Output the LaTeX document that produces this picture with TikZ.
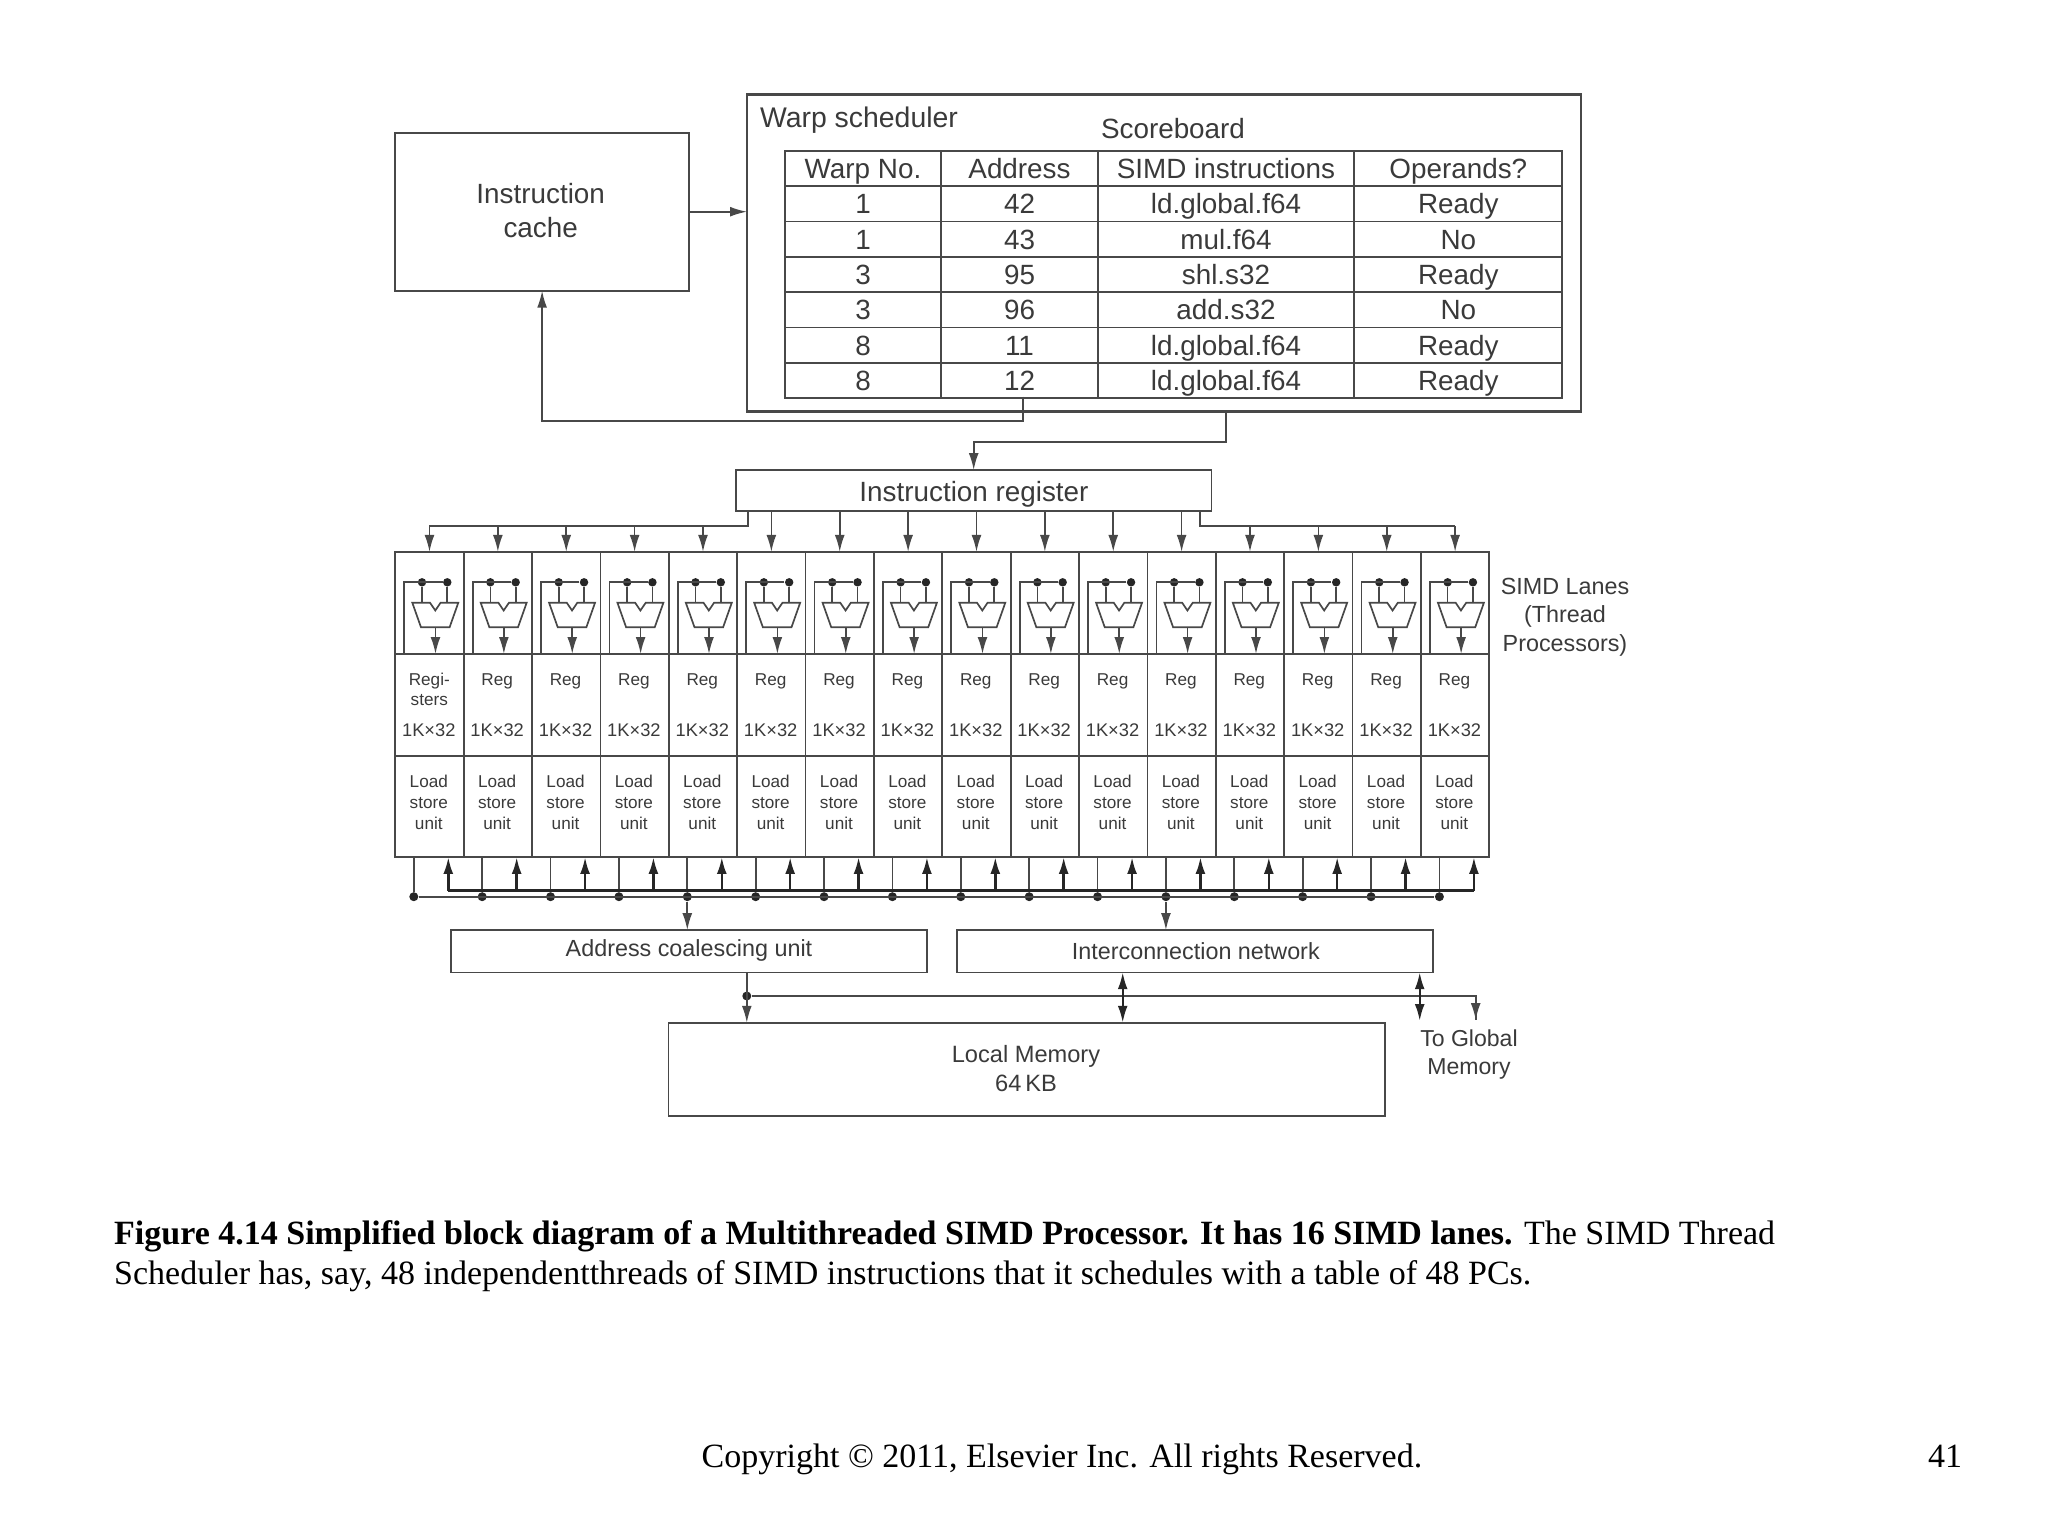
\documentclass[tikz,border=0pt]{standalone}
\usepackage{fontspec}
\setmainfont{Liberation Serif}
\newfontfamily\diafont{Liberation Sans}
\usepackage{xcolor}
\definecolor{wire}{HTML}{484848}
\definecolor{wirebold}{HTML}{262626}
\definecolor{inktext}{HTML}{3A3A3A}
\usetikzlibrary{arrows.meta,positioning,calc}
\tikzset{
  blk/.style 2 args = {draw=wire,line width=0.6pt,inner sep=0pt,outer sep=0pt,
                     minimum width=#1*0.0125cm,minimum height=#2*0.0125cm},
  lbl/.style     = {inner sep=0pt,align=center,text=inktext,
                     font=\diafont\fontsize{8.3}{10.2}\selectfont},
  lblbig/.style  = {lbl,font=\diafont\fontsize{9.9}{12.2}\selectfont},
  lblsmall/.style= {lbl,font=\diafont\fontsize{6.1}{7.5}\selectfont},
  sizelbl/.style = {lbl,font=\diafont\fontsize{6.5}{7.5}\selectfont},
  celltxt/.style = {lblbig,text height=7.2pt,text depth=0pt},
  capt/.style    = {inner sep=0pt,anchor=base west,font=\fontsize{12.09}{14}\selectfont},
  dot/.style     = {circle,fill=wirebold,inner sep=0pt,minimum size=3pt},
  sig/.style     = {-{Latex[length=6pt,width=3.5pt]},draw=wire,line width=0.6pt},
  sigb/.style    = {-{Latex[length=6pt,width=3.5pt]},draw=wirebold,line width=0.9pt},
  both/.style    = {{Latex[length=6pt,width=3.5pt]}-{Latex[length=6pt,width=3.5pt]},
                     draw=wirebold,line width=0.8pt},
  wirel/.style   = {draw=wire,line width=0.6pt},
}
\begin{document}
\begin{tikzpicture}[x=0.0125cm,y=-0.0125cm]
  \useasboundingbox (0,0) rectangle (2048,1536);

  % Instruction cache and scheduler
  \node[blk={293.8}{158}] (icache) at (542.1,211.7) {};
  \node[lblbig,font=\diafont\fontsize{9.9}{11.9}\selectfont] (icachetxt) at (540.7,210.5) {Instruction\\cache};
  \node[blk={834}{317.4},line width=0.95pt] (warp) at (1164,253) {};
  \node[lbl,font=\diafont\fontsize{10.1}{12}\selectfont,anchor=west] (warptxt) at (759.5,120.5) {Warp scheduler};
  \node[lblbig] (scoretxt) at (1173,129) {Scoreboard};

  % Scoreboard table
  \foreach \r/\a/\b/\c/\d in {0/Warp No./Address/SIMD instructions/Operands?,
                              1/1/42/ld.global.f64/Ready, 2/1/43/mul.f64/No,
                              3/3/95/shl.s32/Ready, 4/3/96/add.s32/No,
                              5/8/11/ld.global.f64/Ready, 6/8/12/ld.global.f64/Ready}{
    \pgfmathsetmacro{\yr}{168.4+\r*35.33}
    \node[blk={156.5}{35.33},celltxt,draw=wire] (cella-\r) at (863,\yr) {\a};
    \node[blk={156.5}{35.33},celltxt,draw=wire] (cellb-\r) at (1019.5,\yr) {\b};
    \node[blk={256.5}{35.33},celltxt,draw=wire] (cellc-\r) at (1226,\yr) {\c};
    \node[blk={208}{35.33},celltxt,draw=wire] (celld-\r) at (1458.3,\yr) {\d};
  }

  % Instruction register
  \node[blk={475.8}{41}] (ireg) at (973.7,490.5) {};
  \node[lblbig] (iregtxt) at (974,494) {Instruction register};

  % Links round the scheduler
  \coordinate (fbstart) at (1023,396.7);
  \coordinate (fbturn) at (1023,421.3);
  \coordinate (outstart) at (1226.2,411.7);
  \coordinate (outturn) at (1226.2,442.3);
  \draw[sig] (icache.east) -- (icache.east -| warp.west);
  \draw[sig] (fbstart) -- (fbturn) -| (icache.south);
  \draw[sig] (outstart) -- (outturn) -| (ireg.north);

  % The 16 SIMD lanes
  \foreach \i in {1,...,16}{
    \pgfmathsetmacro{\xl}{395.3+(\i-1)*68.375}
    \pgfmathsetmacro{\xc}{\xl+34.19}
    \node[blk={68.375}{102.3}] (alu-\i) at (\xc,603) {};
    \node[blk={68.375}{101.7}] (reg-\i) at (\xc,704.8) {};
    \node[blk={68.375}{101.3}] (lsu-\i) at (\xc,806.3) {};
    % ALU with its two inputs and feedback
    \node[dot] (dota-\i) at (\xl+26.7,582.3) {};
    \node[dot] (dotb-\i) at (\xl+52,582.3) {};
    \coordinate (fb-\i) at (\xl+9,654);
    \coordinate (aluout-\i) at (\xl+40.2,627.3);
    \draw[wirel] (fb-\i) |- (dotb-\i);
    \draw[wirel] (dota-\i) -- (\xl+26.7,602.7);
    \draw[wirel] (dotb-\i) -- (\xl+52,602.7);
    \draw[wirel,fill=white] (\xl+17,602.7) -- (\xl+34.7,602.7) -- (\xl+40,610.5)
       -- (\xl+45.3,602.7) -- (\xl+63,602.7) -- (\xl+54.3,627.3) -- (\xl+25.7,627.3) -- cycle;
    \draw[sig] (aluout-\i) -- (aluout-\i |- reg-\i.north);
    % Load store links below the lane
    \coordinate (lsdown-\i) at (\xl+18.5,857);
    \node[dot,minimum size=3.2pt] (busdot-\i) at (\xl+18.5,896.7) {};
    \coordinate (lsup-\i) at (\xl+53,890.5);
    \draw[wirel] (lsdown-\i) -- (busdot-\i);
    \draw[sigb] (lsup-\i) -- (lsup-\i |- lsu-\i.south);
  }
  % Lane texts
  \node[lblsmall] (regfirst) at (429.3,689) {Regi-\\[-0.3pt]sters};
  \foreach \i in {2,...,16}{
    \pgfmathsetmacro{\xc}{395.3+(\i-1)*68.375+33.5}
    \node[lblsmall] (regtxt-\i) at (\xc,681) {Reg};
  }
  \foreach \i in {1,...,16}{
    \pgfmathsetmacro{\xc}{395.3+(\i-1)*68.375+33.5}
    \node[sizelbl] (sizetxt-\i) at (\xc,730) {1K×32};
    \node[lblsmall] (lsutxt-\i) at (\xc,802) {Load\\store\\unit};
  }
  \node[lbl] (lanetxt) at (1565,617) {SIMD Lanes\\(Thread\\Processors)};

  % Register to lanes fan out
  \coordinate (ltap) at (747.7,511);
  \coordinate (lbus) at (747.7,526.3);
  \coordinate (rtap) at (1200.2,511);
  \coordinate (rbus) at (1200.2,526.3);
  \draw[wirel] (ltap) -- (lbus) -- (lbus -| alu-1.north);
  \draw[wirel] (rtap) -- (rbus) -- (rbus -| alu-16.north);
  \foreach \i in {1,...,5}
    \draw[sig] (lbus -| alu-\i.north) -- (alu-\i.north);
  \foreach \i in {6,...,12}
    \draw[sig] (ireg.south -| alu-\i.north) -- (alu-\i.north);
  \foreach \i in {13,...,16}
    \draw[sig] (rbus -| alu-\i.north) -- (alu-\i.north);

  % Buses under the lanes
  \draw[draw=wirebold,line width=1pt] (lsup-1) -- (lsup-16);
  \draw[wirel,line width=0.8pt] (busdot-1) -- (busdot-16);

  % Coalescing unit, network and memory
  \node[blk={476}{42.3}] (acu) at (689,951.2) {};
  \node[lbl] (acutxt) at (689,950.5) {Address coalescing unit};
  \node[blk={476}{42.3}] (icn) at (1195.3,951.2) {};
  \node[lbl] (icntxt) at (1195.8,951) {Interconnection network};
  \node[blk={716.4}{93}] (lmem) at (1026.8,1069.2) {};
  \node[lbl,font=\diafont\fontsize{8.4}{10.2}\selectfont] (lmemtxt) at (1026,1068.5) {Local Memory\\64\,KB};
  \node[lbl,font=\diafont\fontsize{8.2}{10.2}\selectfont] (globtxt) at (1469,1054.5) {To Global\\Memory};
  \draw[sig] (busdot-5) -- (busdot-5 |- acu.north);
  \draw[sig] (busdot-12) -- (busdot-12 |- icn.north);

  % Memory side links
  \coordinate (acuout) at (746.8,972.3);
  \coordinate (gout) at (1475.7,1020);
  \coordinate (lnk) at (1122.7,972.3);
  \coordinate (glnk) at (1419.7,972.3);
  \coordinate (glnkend) at (1419.7,1021);
  \node[dot,minimum size=3.2pt] (memdot) at (746.8,996) {};
  \draw[wirel] (memdot) -| (gout);
  \draw[sig] (acuout) -- (acuout |- lmem.north);
  \draw[sig] (memdot -| gout) -- (gout);
  \draw[both] (lnk) -- (lnk |- lmem.north);
  \draw[both] (glnk) -- (glnkend);

  % Caption and footer
  \node[capt] (capone) at (113.6,1244) {\textbf{Figure 4.14 Simplified block diagram of a Multithreaded SIMD Processor. It has 16 SIMD lanes.} The SIMD Thread};
  \node[capt] (captwo) at (113.6,1284) {Scheduler has, say, 48 independentthreads of SIMD instructions that it schedules with a table of 48 PCs.};
  \node[capt,anchor=base] (copy) at (1062,1467.5) {Copyright © 2011, Elsevier Inc. All rights Reserved.};
  \node[capt,anchor=base] (pagenum) at (1945,1467.5) {41};
\end{tikzpicture}
\end{document}
